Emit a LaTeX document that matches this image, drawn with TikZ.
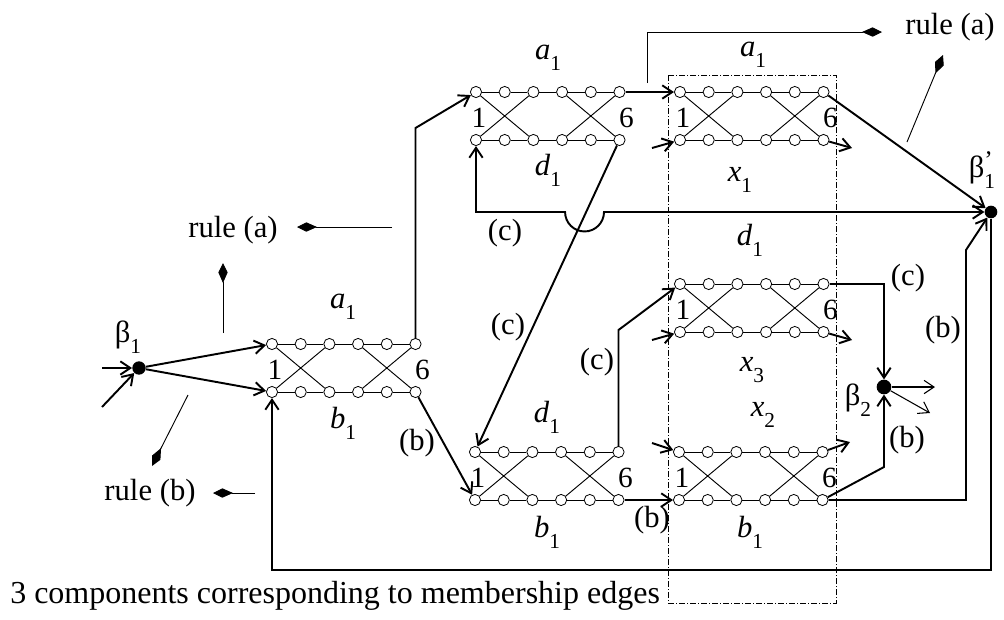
\documentclass[tikz,border=0pt]{standalone}
\usepackage{fontspec}
\setmainfont{Liberation Serif}
\usetikzlibrary{arrows.meta}
\newcommand\ms[2]{\textit{#1}\raisebox{-0.35em}{\fontsize{16}{16}\selectfont #2}}
\newcommand\bt[1]{β\raisebox{-0.35em}{\fontsize{16}{16}\selectfont #1}}
\newcommand\btp[1]{β\makebox[0pt][l]{\raisebox{0.3em}{\fontsize{19}{19}\selectfont ’}}\raisebox{-0.35em}{\fontsize{16}{16}\selectfont #1}}
\tikzset{
  >={Straight Barb[length=7.5pt,width=10pt]},
  cnode/.style={circle,draw,fill=white,inner sep=0pt,minimum size=8.4pt,line width=0.6pt},
  bdot/.style={circle,fill=black,inner sep=0pt,minimum size=#1},
  inner/.style={line width=0.7pt},
  conn/.style={line width=1.45pt},
  thinarr/.style={line width=0.8pt},
  rulearr/.style={line width=0.7pt,-{Kite[length=15pt,width=7pt,inset=8pt]}},
  txt/.style={font=\fontsize{23}{27}\selectfont,inner sep=0pt},
  num/.style={font=\fontsize{22}{26}\selectfont,inner sep=0pt},
  box/.style={line width=0.6pt,dash pattern=on 4.5pt off 1.5pt on 0.75pt off 1.5pt}
}
\newcommand\comp[3]{%
  \foreach \i in {1,...,6}{
    \node[cnode] (#1t\i) at ({#2+(\i-1)*28.7},{#3}) {};
    \node[cnode] (#1b\i) at ({#2+(\i-1)*28.7},{#3+48}) {};
  }
  \foreach \i/\j in {1/2,2/3,3/4,4/5,5/6}{
    \draw[inner] (#1t\i)--(#1t\j);
    \draw[inner] (#1b\i)--(#1b\j);
  }
  \draw[inner] (#1t1)--(#1b3) (#1b1)--(#1t3) (#1t4)--(#1b6) (#1b4)--(#1t6);
  \node[num] (#1n1) at ({#2+3},{#3+26}) {1};
  \node[num] (#1n6) at ({#2+150.5},{#3+26}) {6};
}
\begin{document}
\begin{tikzpicture}[x=0.75pt,y=-0.75pt]
\useasboundingbox (0,0) rectangle (1004,619);
% dashed box
\draw[box] (668,75) rectangle (836,603);
% components
\comp{A}{272}{344}
\comp{B}{476}{92}
\comp{C}{475}{452}
\comp{D}{680}{92}
\comp{E}{680}{284}
\comp{F}{679}{452}
% component labels
\node[txt] (la1) at (343,307) {\ms{a}{1}};
\node[txt] (lb1) at (343,423) {\ms{b}{1}};
\node[txt] (la2) at (548,58) {\ms{a}{1}};
\node[txt] (ld2) at (548,170) {\ms{d}{1}};
\node[txt] (la3) at (753,55) {\ms{a}{1}};
\node[txt] (lx1) at (740,180) {\ms{x}{1}};
\node[txt] (ld4) at (750,240) {\ms{d}{1}};
\node[txt] (lx3) at (752,370) {\ms{x}{3}};
\node[txt] (lx2) at (763,415) {\ms{x}{2}};
\node[txt] (lb5) at (750,532) {\ms{b}{1}};
\node[txt] (ld6) at (547,417) {\ms{d}{1}};
\node[txt] (lb6) at (547,532) {\ms{b}{1}};
% junction dots
\node[bdot=10pt] (B1) at (139,368) {};
\node[bdot=11pt] (B2) at (884,387) {};
\node[bdot=9.5pt] (B1p) at (991,212) {};
\node[txt] (lB1) at (128,337) {\bt{1}};
\node[txt] (lB2) at (858,400) {\bt{2}};
\node[txt] (lB1p) at (982,170) {\btp{1}};
% coordinates
\coordinate (in1) at (102,368);
\coordinate (in2) at (102,407);
\coordinate (k1) at (415.5,128);
\coordinate (bumpR) at (604,212);
\coordinate (k3) at (476,212);
\coordinate (k4) at (618.5,330);
\coordinate (k5) at (884,284);
\coordinate (k6) at (884,467);
\coordinate (r1) at (966,500);
\coordinate (r2) at (966,250);
\coordinate (lp1) at (991,570);
\coordinate (lp2) at (272,570);
\coordinate (s1) at (652,148);
\coordinate (s2) at (852,148);
\coordinate (s3) at (652,340);
\coordinate (s4) at (852,340);
\coordinate (s5) at (652,443);
\coordinate (s6) at (850,442);
\coordinate (o1) at (935,387);
\coordinate (o2) at (930,413);
% thick connectors
\draw[conn,->] (in1) -- (B1);
\draw[conn,->] (in2) -- (B1);
\draw[conn,->] (B1) -- (At1);
\draw[conn,->] (B1) -- (Ab1);
\draw[conn,->] (At6) -- (k1) -- (Bt1);
\draw[conn,->] (Ab6) -- (Cb1);
\draw[conn,->] (Bt6) -- (Dt1);
\draw[conn,->] (Bb6) -- (Ct1);
\draw[conn,<->] (B1p) -- (bumpR) arc[start angle=0,end angle=-180,radius=14.6pt] -- (k3) -- (Bb1);
\draw[conn,->] (Dt6) -- (B1p);
\draw[conn,->] (Ct6) -- (k4) -- (Et1);
\draw[conn,->] (Cb6) -- (Fb1);
\draw[conn,->] (Et6) -- (k5) -- (B2);
\draw[conn,->] (Fb6) -- (k6) -- (B2);
\draw[conn,->] (Fb6) -- (r1) -- (r2) -- (B1p);
\draw[conn,->] (B1p) -- (lp1) -- (lp2) -- (Ab1);
% stubs
\draw[conn,->] (s1) -- (Db1);
\draw[conn,->] (Db6) -- (s2);
\draw[conn,->] (s3) -- (Eb1);
\draw[conn,->] (Eb6) -- (s4);
\draw[conn,->] (s5) -- (Ft1);
\draw[conn,->] (Ft6) -- (s6);
\draw[thinarr,->] (B2) -- (o1);
\draw[thinarr,->] (B2) -- (o2);
% edge labels
\node[txt] (c1) at (505,233) {(c)};
\node[txt] (c2) at (508,327) {(c)};
\node[txt] (c3) at (597,362) {(c)};
\node[txt] (c4) at (908,278) {(c)};
\node[txt] (b1) at (417,443) {(b)};
\node[txt] (b2) at (652,520) {(b)};
\node[txt] (b3) at (907,440) {(b)};
\node[txt] (b4) at (943,330) {(b)};
% rule arrows
\node[txt] (ra1) at (233,230) {rule (a)};
\node[txt] (rb1) at (150,493) {rule (b)};
\node[txt] (ra2) at (950,27) {rule (a)};
\coordinate (q1) at (392,227); \coordinate (q1e) at (297,227);
\coordinate (q2) at (223,333); \coordinate (q2e) at (223,263);
\coordinate (q3) at (188,395); \coordinate (q3e) at (152,466);
\coordinate (q4) at (255,493); \coordinate (q4e) at (213,493);
\coordinate (q5) at (647,83); \coordinate (q5m) at (647,32); \coordinate (q5e) at (882,32);
\coordinate (q6) at (907,142); \coordinate (q6e) at (943,55);
\draw[rulearr] (q1) -- (q1e);
\draw[rulearr] (q2) -- (q2e);
\draw[rulearr] (q3) -- (q3e);
\draw[rulearr] (q4) -- (q4e);
\draw[rulearr] (q5) -- (q5m) -- (q5e);
\draw[rulearr] (q6) -- (q6e);
% caption
\node[txt,font=\fontsize{24}{28}\selectfont,anchor=west] (cap) at (10,596) {3 components corresponding to membership edges};
\end{tikzpicture}
\end{document}
